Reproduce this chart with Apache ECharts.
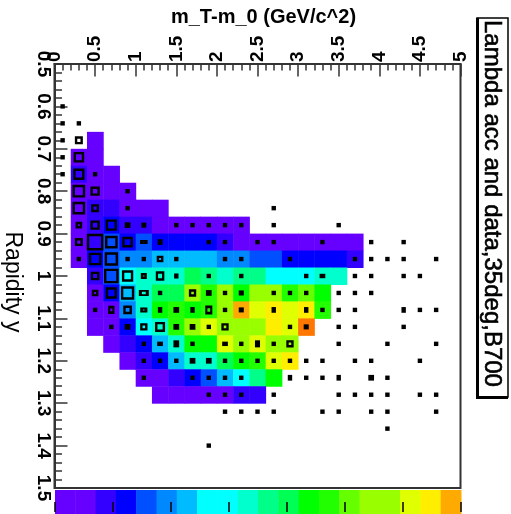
<!DOCTYPE html>
<html><head><meta charset="utf-8">
<style>html,body{margin:0;padding:0;background:#fff}#c{width:511px;height:514px}</style>
<script src="https://cdn.jsdelivr.net/npm/echarts@6/dist/echarts.min.js"></script>
</head><body><div id="c"></div>
<script>
const titleText = "Lambda acc and data,35deg,B700";
const xName = "m_T-m_0 (GeV/c^2)";
const yName = "Rapidity y";
const paletteStrip = ["#6600ff","#6600ff","#3300ff","#0000ff","#0050ff","#0088ff","#00bbff","#00ffff","#00ffff","#00ffcc","#00ff88","#00ff55","#00ff00","#22ff00","#66ff00","#99ff00","#99ff00","#e0ff00","#ffee00","#ffaa00","#ff7700"];
// each row: [row index from the top, first column, colour levels]
const acceptanceRows = [
 [4,2,[0]],
 [5,1,[0,0]],
 [6,1,[2,0,0]],
 [7,1,[0,0,0,0]],
 [8,1,[0,2,2,0,0,0]],
 [9,1,[0,2,3,2,2,0,0,0,0,0,0]],
 [10,1,[0,2,4,3,4,3,3,3,3,2,0,0,0,0,0,0,0,0]],
 [11,1,[0,3,4,5,5,6,6,6,6,5,5,4,4,3,3,3,3,2]],
 [12,2,[2,4,7,9,9,9,11,10,9,10,10,7,7,7,9,9]],
 [13,2,[0,3,6,9,11,11,15,13,15,12,15,15,13,14,12]],
 [14,2,[0,0,5,9,12,13,12,13,15,19,17,18,17,18,13]],
 [15,2,[0,0,3,7,9,13,15,17,15,15,15,18,17,20]],
 [16,3,[0,2,3,6,9,12,12,17,15,17,15,15]],
 [17,4,[0,2,3,6,9,9,11,12,13,17,18]],
 [18,5,[0,0,2,3,4,6,7,10,12]],
 [19,6,[0,0,0,0,0,2,2]]
];
// data boxes: [column, row, box width, optional box height]
const dataBoxes = [
 [0,2,12],[0,3,12],[0,4,12],[0,5,12],[0,6,12],
 [1,3,12],[1,4,24],[1,5,32],[1,6,34],[1,7,38],[1,8,38],[1,9,20],[1,10,24],[1,11,12],
 [2,6,12],[2,7,28],[2,8,24],[2,9,28],[2,10,50],[2,11,38],[2,12,26],[2,13,20],[2,14,12],
 [3,9,34],[3,10,38],[3,11,40],[3,12,44],[3,13,34],[3,14,20,24],[3,15,12],
 [4,7,12],[4,8,12],[4,9,16],[4,10,32],[4,11,12],[4,12,34],[4,13,40],[4,14,26],[4,15,16],
 [5,9,14],[5,10,20,14],[5,11,12],[5,12,18],[5,13,28,20],[5,14,20,16],[5,15,22],[5,16,12],[5,17,12],[5,18,12],
 [6,10,14,16],[6,11,20],[6,12,26,28],[6,13,12],[6,14,12,16],[6,15,30],[6,16,16,12],[6,17,12],
 [7,9,12],[7,11,12],[7,12,12,14],[7,14,16],[7,15,16],[7,16,16,20],[7,17,12],
 [8,9,12],[8,13,22],[8,14,12,16],[8,15,16],[8,16,12],[8,17,16],[8,18,12],
 [9,9,12],[9,10,12],[9,12,12],[9,13,16],[9,14,22,26],[9,15,12],[9,17,16],[9,18,12],[9,19,12],[9,22,12],
 [10,9,12],[10,10,12],[10,11,12],[10,13,12],[10,14,12],[10,15,22],[10,16,16,12],[10,17,12],[10,18,12],[10,19,12],[10,20,12],
 [11,9,12],[11,11,12],[11,12,12],[11,13,14],[11,14,14],[11,16,12],[11,17,12],[11,18,12],[11,19,12],[11,20,12],
 [12,10,12],[12,16,14,20],[12,17,12],[12,20,12],
 [13,8,12],[13,9,12],[13,10,12],[13,13,12],[13,14,12,16],[13,16,12],[13,17,12],[13,19,12],[13,20,12],
 [14,11,12],[14,13,12],[14,15,12],[14,16,22],[14,17,12],[14,18,12,16],
 [15,12,12],[15,13,12],[15,14,12,16],[15,15,14],[15,17,12],[15,18,12],
 [16,10,12],[16,12,16,12],[16,14,12],[16,17,12],[16,18,12],[16,20,12],
 [17,9,12],[17,13,12],[17,14,12],[17,15,12],[17,16,12],[17,18,12,16],[17,19,12],[17,20,12],
 [18,11,12],[18,12,12],[18,13,12],[18,14,12],[18,15,12],[18,17,12],[18,19,12],
 [19,10,12],[19,11,12],[19,12,12],[19,13,12],[19,17,12],[19,18,16],[19,19,12],[19,20,12],
 [20,11,12],[20,16,12],[20,18,12],[20,19,12],[20,20,12],[20,21,12],
 [21,10,12],[21,11,12],[21,12,12],[21,14,12,16],[21,15,12],
 [22,12,12],[22,14,12],[22,17,12],[22,19,12],
 [23,11,12],[23,14,12],[23,16,12],[23,19,12],[23,20,12]
];

const binX = 0.2, binY = 0.04, yMin = 0.5;
const cells = [];
acceptanceRows.forEach(([r,c0,lv]) => lv.forEach((l,k) => cells.push([c0+k,r,l])));
const toVal = b => [(b[0]+0.5)*binX, yMin+(b[1]+0.5)*binY, b[2], b[3]||b[2]];
const dots = dataBoxes.filter(b => b[2] <= 16).map(toVal);
const hollow = dataBoxes.filter(b => b[2] > 16).map(toVal);

const font = '"Liberation Sans"', ink = '#000', frame = '#333';
const tickFmt = v=>String(parseFloat(v.toFixed(1)));
const chart = echarts.init(document.getElementById('c'), null, {renderer:'canvas'});
chart.setOption({
 animation:false,
 backgroundColor:'#fff',
 grid:[
  {left:54.5,top:64,width:406,height:424,show:true,borderColor:frame,borderWidth:2,backgroundColor:'transparent',outerBoundsMode:'none'},
  {left:55,top:490,width:406,height:22,show:false,outerBoundsMode:'none'}
 ],
 xAxis:[
  {type:'value',gridIndex:0,position:'top',min:0,max:5,interval:0.5,
   name:xName,nameLocation:'middle',nameGap:35,
   nameTextStyle:{fontFamily:font,fontSize:20,color:ink,fontWeight:'bold',padding:[0,0,0,12]},
   axisLine:{show:true,onZero:false,lineStyle:{color:frame,width:2}},
   axisTick:{show:true,inside:true,length:12.5,lineStyle:{color:frame,width:1.5}},
   minorTick:{show:true,splitNumber:5,length:6.5,lineStyle:{color:frame,width:1.5}},
   splitLine:{show:false},
   axisLabel:{show:true,rotate:-90,margin:2,fontFamily:font,fontSize:19,fontWeight:'bold',color:ink,formatter:tickFmt}},
  {type:'value',gridIndex:1,min:0,max:7,interval:1,position:'bottom',z:20,
   axisLine:{show:true,onZero:false,lineStyle:{color:'rgba(0,0,0,0)',width:1}},
   axisTick:{show:true,inside:true,length:10,lineStyle:{color:'#000',width:1.5}},
   axisLabel:{show:false},splitLine:{show:false}}
 ],
 yAxis:[
  {type:'value',gridIndex:0,inverse:true,min:0.5,max:1.5,interval:0.1,
   name:yName,nameLocation:'middle',nameGap:31,nameRotate:-90,
   nameTextStyle:{fontFamily:font,fontSize:23,color:ink,padding:[0,0,0,12]},
   axisLine:{show:true,onZero:false,lineStyle:{color:frame,width:2}},
   axisTick:{show:true,inside:true,length:13,lineStyle:{color:frame,width:1.5}},
   minorTick:{show:true,splitNumber:5,length:7.5,lineStyle:{color:frame,width:1.5}},
   splitLine:{show:false},
   axisLabel:{show:true,rotate:-90,margin:2,fontFamily:font,fontSize:19,fontWeight:'bold',color:ink,formatter:tickFmt}},
  {type:'value',gridIndex:1,min:0,max:1,show:false}
 ],
 graphic:[
  {type:'rect',shape:{x:477,y:18,width:31,height:379},style:{fill:'#fff',stroke:'#000',lineWidth:1.5},z:5},
  {type:'rect',shape:{x:476,y:18,width:3,height:381},style:{fill:'#000'},z:6},
  {type:'rect',shape:{x:476,y:396,width:32,height:3},style:{fill:'#000'},z:6},
  {type:'text',x:492,y:20,rotation:-Math.PI/2,z:7,
   style:{text:titleText,fontFamily:font,fontSize:24,fill:'#000',stroke:'#000',lineWidth:0.6,textAlign:'left',textVerticalAlign:'middle',verticalAlign:'middle'}}
 ],
 series:[
  {type:'custom',xAxisIndex:0,yAxisIndex:0,coordinateSystem:'cartesian2d',clip:true,z:2,
   data:cells,encode:{x:0,y:1},silent:true,
   renderItem:(p,api)=>{
    const c=api.value(0),r=api.value(1),l=api.value(2);
    const a=api.coord([c*binX,yMin+r*binY]),b=api.coord([(c+1)*binX,yMin+(r+1)*binY]);
    return {type:'rect',shape:{x:a[0],y:a[1],width:b[0]-a[0]+0.5,height:b[1]-a[1]+0.5},style:{fill:paletteStrip[l]}};
   }},
  {type:'scatter',xAxisIndex:0,yAxisIndex:0,z:3,silent:true,symbol:'rect',
   data:dots,symbolSize:v=>[v[2]/3+0.4,v[3]/3+0.4],itemStyle:{color:'#000',opacity:1}},
  {type:'scatter',xAxisIndex:0,yAxisIndex:0,z:3,silent:true,symbol:'rect',
   data:hollow,symbolSize:v=>[v[2]/3-2.4,v[3]/3-2.4],itemStyle:{color:'rgba(0,0,0,0)',borderColor:'#000',borderWidth:2.4,opacity:1}},
  {type:'custom',xAxisIndex:1,yAxisIndex:1,coordinateSystem:'cartesian2d',z:1,silent:true,clip:false,
   data:paletteStrip.slice(0,20).map((c,i)=>[i]),encode:{x:0},
   renderItem:(p,api)=>{
    const i=api.value(0),w=7/20;
    const a=api.coord([i*w,1]),b=api.coord([(i+1)*w,0]);
    return {type:'rect',shape:{x:a[0],y:a[1],width:b[0]-a[0]+0.5,height:b[1]-a[1]+4},style:{fill:paletteStrip[i]}};
   }}
 ]
});
</script></body></html>
